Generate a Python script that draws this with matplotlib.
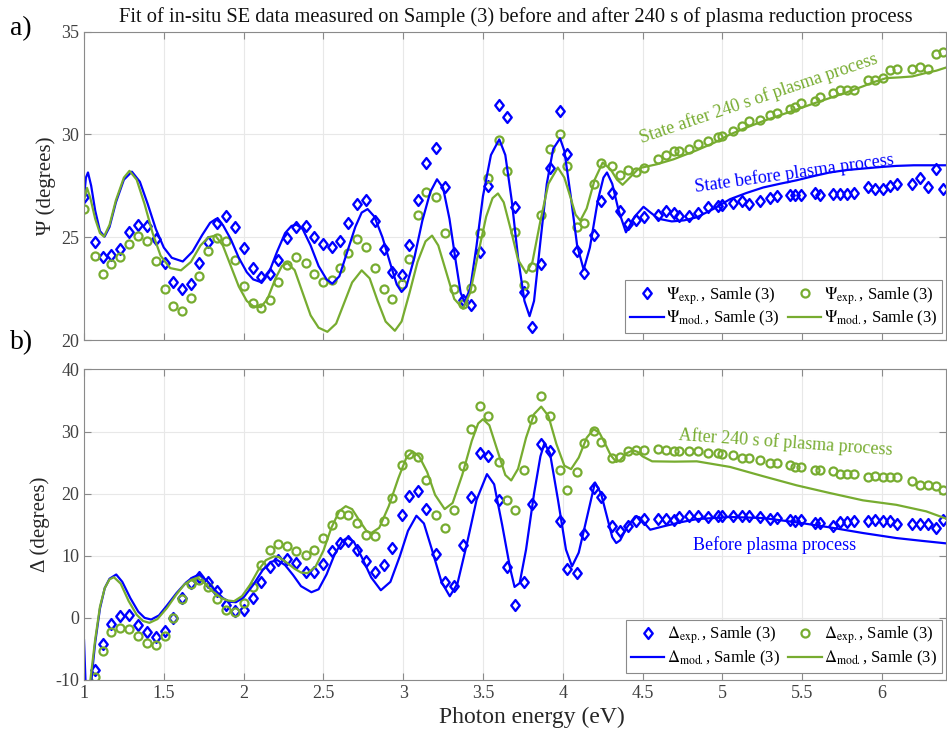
import numpy as np
import matplotlib
matplotlib.use('Agg')
import matplotlib.pyplot as plt
from matplotlib.path import Path

plt.rcParams['font.family'] = ['Liberation Serif', 'DejaVu Serif']
plt.rcParams['mathtext.fontset'] = 'stix'
plt.rcParams['axes.unicode_minus'] = False

BLUE = '#0000FF'
GREEN = '#77AC30'

# measured photon energies (eV), shared by both samples
energy = [1.000, 1.067, 1.119, 1.171, 1.223, 1.281, 1.338, 1.394, 1.452, 1.506,
          1.560, 1.615, 1.669, 1.723, 1.779, 1.833, 1.890, 1.948, 2.002, 2.056,
          2.110, 2.165, 2.217, 2.275, 2.331, 2.390, 2.444, 2.498, 2.554, 2.604,
          2.655, 2.710, 2.765, 2.825, 2.879, 2.932, 2.990, 3.035, 3.094, 3.146,
          3.208, 3.265, 3.319, 3.375, 3.423, 3.481, 3.533, 3.598, 3.650, 3.700,
          3.754, 3.806, 3.865, 3.923, 3.981, 4.026, 4.088, 4.133, 4.196, 4.242,
          4.310, 4.360, 4.408, 4.456, 4.510, 4.594, 4.646, 4.700, 4.726, 4.790,
          4.846, 4.910, 4.970, 4.998, 5.066, 5.124, 5.164, 5.235, 5.300, 5.342,
          5.421, 5.456, 5.493, 5.579, 5.613, 5.696, 5.740, 5.781, 5.822, 5.913,
          5.957, 6.004, 6.052, 6.096, 6.190, 6.240, 6.288, 6.340, 6.380]

psi_before = [26.94, 24.76, 24.03, 24.16, 24.44, 25.24, 25.61, 25.56, 24.92, 23.76,
              22.82, 22.50, 22.74, 23.76, 24.79, 25.68, 26.05, 25.48, 24.48, 23.50,
              23.06, 23.19, 23.90, 24.97, 25.48, 25.53, 25.03, 24.68, 24.52, 24.84,
              25.68, 26.63, 26.81, 25.81, 24.44, 23.31, 23.15, 24.60, 26.82, 28.63,
              29.35, 27.45, 24.24, 21.94, 21.69, 24.27, 27.48, 31.42, 30.84, 26.48,
              22.34, 20.65, 23.71, 28.35, 31.13, 29.03, 24.32, 23.27, 25.13, 26.74,
              27.14, 26.27, 25.66, 25.86, 26.00, 26.10, 26.26, 26.16, 26.05, 26.05,
              26.20, 26.45, 26.50, 26.58, 26.65, 26.74, 26.61, 26.77, 26.90, 27.02,
              27.05, 27.05, 27.05, 27.13, 27.05, 27.10, 27.10, 27.10, 27.15, 27.42,
              27.34, 27.34, 27.50, 27.61, 27.61, 27.90, 27.45, 28.31, 27.34]

psi_after = [26.37, 24.11, 23.19, 23.71, 24.03, 24.68, 25.08, 24.81, 23.82, 22.50,
             21.66, 21.40, 22.05, 23.10, 24.31, 24.95, 24.84, 23.87, 22.63, 21.81,
             21.58, 21.94, 22.82, 23.66, 24.03, 23.76, 23.23, 22.82, 22.90, 23.51,
             24.24, 24.90, 24.52, 23.52, 22.50, 21.98, 22.71, 23.95, 26.10, 27.18,
             26.94, 25.21, 22.50, 21.74, 22.55, 25.21, 27.90, 29.71, 28.23, 25.24,
             22.66, 23.55, 26.10, 29.27, 30.03, 28.47, 25.52, 25.68, 27.58, 28.60,
             28.47, 28.03, 28.25, 28.15, 28.35, 28.82, 29.00, 29.19, 29.19, 29.27,
             29.52, 29.68, 29.87, 29.92, 30.19, 30.40, 30.65, 30.68, 30.94, 31.02,
             31.26, 31.32, 31.53, 31.61, 31.81, 32.02, 32.18, 32.18, 32.18, 32.66,
             32.66, 32.74, 33.15, 33.19, 33.19, 33.26, 33.19, 33.90, 34.03]

delta_before = [-14.0, -8.32, -4.13, -0.91, 0.38, 0.54, -1.07, -2.31, -3.11, -2.15,
                0.00, 3.22, 5.64, 6.55, 5.80, 4.29, 2.15, 1.07, 1.23, 3.22,
                5.80, 8.21, 9.39, 9.50, 8.86, 7.35, 7.35, 8.75, 10.74, 12.00,
                12.30, 10.90, 9.11, 7.34, 8.46, 11.25, 16.60, 19.66, 20.46, 17.57,
                10.34, 5.78, 5.09, 11.78, 19.39, 26.62, 26.08, 18.91, 8.20, 2.14,
                5.78, 18.37, 27.96, 26.89, 15.53, 7.87, 7.23, 13.55, 20.89, 19.50,
                14.86, 13.92, 14.73, 15.54, 15.91, 15.91, 15.91, 15.81, 16.24, 16.45,
                16.34, 16.24, 16.34, 16.45, 16.34, 16.34, 16.34, 16.24, 15.91, 16.08,
                15.81, 15.54, 15.81, 15.27, 15.27, 14.73, 15.43, 15.43, 15.54, 15.54,
                15.81, 15.54, 15.54, 15.11, 15.11, 15.11, 15.11, 14.46, 15.81]

delta_after = [-14.0, -9.55, -5.37, -2.31, -1.61, -1.77, -2.95, -4.03, -4.40, -2.84,
               0.00, 3.11, 5.48, 6.17, 4.99, 3.11, 1.34, 0.91, 2.42, 4.99,
               8.48, 11.00, 11.92, 11.54, 10.74, 10.09, 11.00, 12.88, 15.03, 16.70,
               16.62, 15.23, 13.39, 13.23, 15.53, 19.28, 24.64, 26.41, 25.87, 22.23,
               16.60, 14.46, 17.30, 24.37, 30.37, 34.12, 32.51, 25.17, 19.01, 17.30,
               23.84, 31.98, 35.78, 32.51, 23.73, 20.51, 23.41, 28.12, 30.16, 28.30,
               25.75, 25.85, 26.90, 26.97, 27.10, 27.26, 27.10, 26.83, 26.83, 26.83,
               26.83, 26.56, 26.56, 26.45, 26.18, 25.75, 25.75, 25.38, 24.95, 24.95,
               24.68, 24.30, 24.30, 23.87, 23.87, 23.60, 23.17, 23.23, 23.17, 22.63,
               22.80, 22.69, 22.63, 22.63, 21.99, 21.45, 21.34, 21.29, 20.65]

# model curves
psi_mod_b_e = [1.000, 1.012, 1.025, 1.045, 1.07, 1.10, 1.129, 1.16, 1.20, 1.25,
               1.30, 1.35, 1.40, 1.45, 1.50, 1.55, 1.619, 1.68, 1.74, 1.79,
               1.827, 1.87, 1.92, 1.97, 2.02, 2.06, 2.108, 2.16, 2.21, 2.26,
               2.30, 2.331, 2.37, 2.42, 2.47, 2.52, 2.556, 2.60, 2.65, 2.70,
               2.74, 2.777, 2.82, 2.87, 2.92, 2.96, 2.99, 3.02, 3.07, 3.12,
               3.17, 3.212, 3.25, 3.29, 3.33, 3.36, 3.385, 3.42, 3.46, 3.50,
               3.55, 3.602, 3.64, 3.68, 3.72, 3.76, 3.792, 3.82, 3.86, 3.90,
               3.94, 3.983, 4.01, 4.05, 4.09, 4.131, 4.17, 4.22, 4.255, 4.277,
               4.31, 4.35, 4.396, 4.45, 4.506, 4.55, 4.60, 4.683, 4.76, 4.84,
               4.95, 5.048, 5.15, 5.256, 5.36, 5.465, 5.57, 5.673, 5.78, 5.881,
               6.00, 6.09, 6.20, 6.30, 6.40]
psi_mod_b = [26.9, 27.9, 28.15, 27.5, 26.3, 25.3, 25.03, 25.5, 26.7, 27.8,
             28.19, 27.7, 26.6, 25.4, 24.5, 24.0, 23.82, 24.3, 25.1, 25.7,
             25.89, 25.6, 24.9, 24.0, 23.3, 22.95, 22.82, 23.3, 24.3, 25.2,
             25.55, 25.61, 25.4, 24.6, 23.6, 22.95, 22.74, 23.1, 24.3, 25.5,
             26.2, 26.37, 26.0, 25.0, 23.7, 22.7, 22.34, 22.6, 24.0, 25.8,
             27.2, 27.82, 27.4, 25.9, 23.8, 22.3, 21.85, 22.5, 24.6, 27.0,
             29.0, 29.76, 29.0, 26.8, 24.0, 21.9, 21.16, 21.9, 24.8, 27.6,
             29.3, 29.81, 29.2, 27.0, 24.6, 23.42, 24.5, 26.8, 27.9, 28.15,
             27.6, 26.3, 25.24, 26.0, 26.48, 26.2, 25.9, 25.77, 25.82, 25.97,
             26.4, 26.85, 27.15, 27.42, 27.6, 27.77, 27.97, 28.15, 28.27, 28.34,
             28.42, 28.47, 28.5, 28.5, 28.5]

psi_mod_a_e = [1.000, 1.019, 1.04, 1.07, 1.10, 1.125, 1.16, 1.20, 1.25, 1.285,
               1.33, 1.38, 1.43, 1.48, 1.54, 1.608, 1.67, 1.73, 1.78, 1.823,
               1.87, 1.92, 1.97, 2.02, 2.06, 2.108, 2.15, 2.20, 2.24, 2.275,
               2.32, 2.37, 2.42, 2.47, 2.525, 2.58, 2.63, 2.68, 2.74, 2.79,
               2.84, 2.89, 2.948, 2.99, 3.04, 3.09, 3.14, 3.181, 3.22, 3.27,
               3.32, 3.375, 3.42, 3.47, 3.52, 3.56, 3.594, 3.63, 3.68, 3.72,
               3.771, 3.81, 3.86, 3.91, 3.969, 4.01, 4.05, 4.08, 4.110, 4.15,
               4.20, 4.25, 4.30, 4.34, 4.375, 4.42, 4.47, 4.496, 4.59, 4.694,
               4.84, 4.95, 5.048, 5.15, 5.256, 5.36, 5.465, 5.57, 5.673, 5.78,
               5.881, 5.95, 6.027, 6.12, 6.19, 6.28, 6.34, 6.40]
psi_mod_a = [26.8, 27.4, 26.9, 25.9, 25.2, 25.03, 25.6, 26.8, 27.9, 28.23,
             27.8, 26.6, 25.2, 24.1, 23.5, 23.39, 23.8, 24.6, 25.0, 25.08,
             24.6, 23.6, 22.6, 21.9, 21.65, 21.6, 22.0, 23.0, 23.6, 23.74,
             23.4, 22.3, 21.2, 20.6, 20.4, 20.8, 21.8, 22.8, 23.39, 23.0,
             21.9, 20.9, 20.45, 20.9, 22.3, 23.8, 24.8, 25.08, 24.6, 23.3,
             22.0, 21.53, 22.3, 24.2, 26.0, 26.9, 27.13, 26.7, 25.2, 23.9,
             23.26, 23.8, 25.8, 27.6, 28.39, 27.9, 26.9, 26.1, 25.81, 26.4,
             27.8, 28.63, 28.3, 27.8, 27.55, 27.9, 28.3, 28.39, 28.55, 28.79,
             29.23, 29.6, 30.0, 30.33, 30.65, 30.93, 31.21, 31.5, 31.77, 32.05,
             32.34, 32.55, 32.74, 32.78, 32.82, 33.0, 33.1, 33.25]

delta_mod_b_e = [1.000, 1.012, 1.03, 1.046, 1.07, 1.10, 1.13, 1.16, 1.202, 1.24,
                 1.29, 1.34, 1.38, 1.421, 1.47, 1.52, 1.58, 1.64, 1.68, 1.723,
                 1.77, 1.82, 1.87, 1.91, 1.952, 2.00, 2.06, 2.12, 2.17, 2.212,
                 2.26, 2.31, 2.36, 2.425, 2.47, 2.52, 2.57, 2.62, 2.65, 2.69,
                 2.74, 2.80, 2.86, 2.92, 2.98, 3.03, 3.083, 3.13, 3.18, 3.24,
                 3.292, 3.34, 3.40, 3.46, 3.525, 3.57, 3.62, 3.67, 3.698, 3.73,
                 3.77, 3.82, 3.86, 3.885, 3.92, 3.97, 4.02, 4.058, 4.10, 4.15,
                 4.202, 4.24, 4.28, 4.31, 4.335, 4.36, 4.40, 4.454, 4.48, 4.51,
                 4.548, 4.63, 4.74, 4.84, 5.048, 5.256, 5.465, 5.673, 5.881, 6.09,
                 6.25, 6.40]
delta_mod_b = [-3.6, -12.0, -13.0, -10.0, -4.0, 1.5, 4.8, 6.3, 6.98, 5.8,
               3.2, 1.0, 0.0, -0.27, 0.4, 2.0, 4.0, 5.7, 6.5, 6.98,
               6.0, 4.5, 3.2, 2.6, 2.52, 3.3, 5.3, 7.7, 9.0, 9.29,
               8.5, 6.9, 5.1, 4.13, 4.6, 7.0, 10.2, 12.4, 12.88, 12.3,
               9.8, 6.5, 4.45, 5.8, 10.0, 14.0, 16.44, 15.2, 11.0, 5.8,
               3.48, 5.5, 12.0, 19.0, 23.14, 21.5, 15.0, 8.0, 4.98, 5.6,
               11.0, 20.0, 26.0, 28.12, 26.5, 19.0, 11.0, 8.3, 10.5, 16.0,
               21.8, 20.0, 16.0, 13.0, 12.05, 12.5, 14.5, 16.34, 16.2, 15.3,
               14.19, 14.73, 15.4, 15.9, 16.24, 16.07, 15.38, 14.57, 13.66, 12.85,
               12.4, 12.0]

delta_mod_a_e = [1.000, 1.02, 1.04, 1.07, 1.10, 1.13, 1.16, 1.1875, 1.23, 1.28,
                 1.33, 1.37, 1.41, 1.46, 1.52, 1.58, 1.63, 1.67, 1.708, 1.75,
                 1.80, 1.86, 1.90, 1.94, 1.99, 2.04, 2.09, 2.14, 2.19, 2.22,
                 2.27, 2.32, 2.36, 2.40, 2.45, 2.50, 2.55, 2.60, 2.64, 2.68,
                 2.73, 2.77, 2.80, 2.85, 2.91, 2.97, 3.02, 3.06, 3.10, 3.15,
                 3.20, 3.26, 3.31, 3.37, 3.43, 3.47, 3.50, 3.54, 3.59, 3.64,
                 3.677, 3.72, 3.77, 3.82, 3.865, 3.91, 3.96, 4.01, 4.052, 4.10,
                 4.15, 4.194, 4.23, 4.27, 4.30, 4.335, 4.36, 4.40, 4.44, 4.47,
                 4.50, 4.56, 4.70, 4.84, 5.048, 5.256, 5.465, 5.673, 5.881, 6.09,
                 6.277, 6.40]
delta_mod_a = [-17.0, -14.0, -10.0, -3.5, 1.8, 4.8, 6.2, 6.55, 5.5, 2.7,
               0.5, -0.5, -0.8, -0.2, 1.6, 3.8, 5.4, 6.1, 6.44, 5.8,
               4.4, 3.2, 2.8, 2.68, 3.5, 5.3, 7.6, 9.3, 9.9, 9.8,
               8.9, 7.9, 7.3, 7.2, 8.2, 10.8, 14.5, 17.2, 17.98, 17.5,
               15.5, 14.0, 13.66, 14.5, 18.0, 22.5, 25.8, 26.78, 26.0, 23.5,
               19.8, 17.51, 18.5, 23.0, 28.5, 31.3, 31.98, 31.0, 27.0, 23.0,
               22.12, 24.0, 29.0, 32.8, 34.01, 32.5, 28.0, 24.5, 23.94, 25.8,
               29.0, 30.37, 29.8, 27.8, 26.2, 25.1, 25.4, 26.5, 26.99, 26.7,
               26.0, 25.2, 25.15, 25.2, 24.3, 22.8, 21.34, 20.1, 18.92, 18.2,
               17.15, 16.0]

xticks = [1, 1.5, 2, 2.5, 3, 3.5, 4, 4.5, 5, 5.5, 6]
xticklabels = ['1', '1.5', '2', '2.5', '3', '3.5', '4', '4.5', '5', '5.5', '6']

# MATLAB-style diamond, a bit taller than wide
diamond = Path([(0, 1), (0.78, 0), (0, -1), (-0.78, 0), (0, 1)],
               [Path.MOVETO, Path.LINETO, Path.LINETO, Path.LINETO, Path.CLOSEPOLY])


def style_axes(ax):
    for s in ax.spines.values():
        s.set_color('#8a8a8a')
        s.set_linewidth(0.8)
    ax.tick_params(direction='in', top=True, right=True, length=5, width=0.8,
                   color='#8a8a8a', labelcolor='#404040', labelsize=13)
    ax.grid(True, color='#e8e8e8', linewidth=0.8)
    ax.set_axisbelow(True)
    ax.set_xlim(1, 6.4)
    ax.set_xticks(xticks)


fig = plt.figure(figsize=(9.47, 7.36), dpi=100)
ax1 = fig.add_axes([0.0887, 0.538, 0.910, 0.419])
ax2 = fig.add_axes([0.0887, 0.0761, 0.910, 0.422])

mk_d = dict(marker=diamond, linestyle='none', markersize=7.8, markeredgewidth=1.7,
            markerfacecolor='none')
mk_o = dict(marker='o', linestyle='none', markersize=5.8, markeredgewidth=1.6,
            markerfacecolor='none')
ln = dict(lw=1.6, solid_joinstyle='round')
leg_kw = dict(ncol=2, loc='lower right', bbox_to_anchor=(0.996, 0.022),
              fontsize=12, fancybox=False, framealpha=1, edgecolor='#8a8a8a',
              borderpad=0.3, labelspacing=0.15, handlelength=2.0,
              handletextpad=0.15, columnspacing=0.5, borderaxespad=0)

# top panel: Psi
style_axes(ax1)
h1, = ax1.plot(energy, psi_before, color=BLUE, **mk_d,
               label=r'$\Psi_{\mathrm{exp.}}$, Samle (3)')
h3, = ax1.plot(energy, psi_after, color=GREEN, **mk_o,
               label=r'$\Psi_{\mathrm{exp.}}$, Samle (3)')
h2, = ax1.plot(psi_mod_b_e, psi_mod_b, color=BLUE, **ln,
               label=r'$\Psi_{\mathrm{mod.}}$, Samle (3)')
h4, = ax1.plot(psi_mod_a_e, psi_mod_a, color=GREEN, **ln,
               label=r'$\Psi_{\mathrm{mod.}}$, Samle (3)')
ax1.set_ylim(20, 35)
ax1.set_yticks([20, 25, 30, 35])
ax1.set_xticklabels([])
ax1.set_ylabel('Ψ (degrees)', fontsize=15, color='#262626', labelpad=4)
ax1.text(5.225, 31.74, 'State after 240 s of plasma process', color=GREEN,
         fontsize=13, rotation=18.7, ha='center', va='center', rotation_mode='anchor')
ax1.text(5.45, 28.1, 'State before plasma process', color=BLUE,
         fontsize=13, rotation=7.9, ha='center', va='center', rotation_mode='anchor')
leg1 = ax1.legend(handles=[h1, h2, h3, h4], **leg_kw)
leg1.get_frame().set_linewidth(0.8)

# bottom panel: Delta
style_axes(ax2)
g1, = ax2.plot(energy, delta_before, color=BLUE, **mk_d,
               label=r'$\Delta_{\mathrm{exp.}}$, Samle (3)')
g3, = ax2.plot(energy, delta_after, color=GREEN, **mk_o,
               label=r'$\Delta_{\mathrm{exp.}}$, Samle (3)')
g2, = ax2.plot(delta_mod_b_e, delta_mod_b, color=BLUE, **ln,
               label=r'$\Delta_{\mathrm{mod.}}$, Samle (3)')
g4, = ax2.plot(delta_mod_a_e, delta_mod_a, color=GREEN, **ln,
               label=r'$\Delta_{\mathrm{mod.}}$, Samle (3)')
ax2.set_ylim(-10, 40)
ax2.set_yticks([-10, 0, 10, 20, 30, 40])
ax2.set_xticklabels(xticklabels)
ax2.set_xlabel('Photon energy (eV)', fontsize=17, color='#262626', labelpad=2)
ax2.xaxis.set_label_coords(0.52, -0.085)
ax2.set_ylabel('Δ (degrees)', fontsize=15, color='#262626', labelpad=4)
ax2.text(5.394, 28.2, 'After 240 s of plasma process', color=GREEN,
         fontsize=13, rotation=-4, ha='center', va='center', rotation_mode='anchor')
ax2.text(5.33, 11.8, 'Before plasma process', color=BLUE,
         fontsize=13, ha='center', va='center')
leg2 = ax2.legend(handles=[g1, g2, g3, g4], **leg_kw)
leg2.get_frame().set_linewidth(0.8)

fig.text(516 / 947, 1 - 17 / 736,
         'Fit of in-situ SE data measured on Sample (3) before and after 240 s of plasma reduction process',
         ha='center', va='center', fontsize=14.8, color='#111111')
fig.text(10 / 947, 1 - 29 / 736, 'a)', fontsize=20, ha='left', va='center')
fig.text(10 / 947, 1 - 343 / 736, 'b)', fontsize=20, ha='left', va='center')

fig.savefig('out.png', dpi=100)
